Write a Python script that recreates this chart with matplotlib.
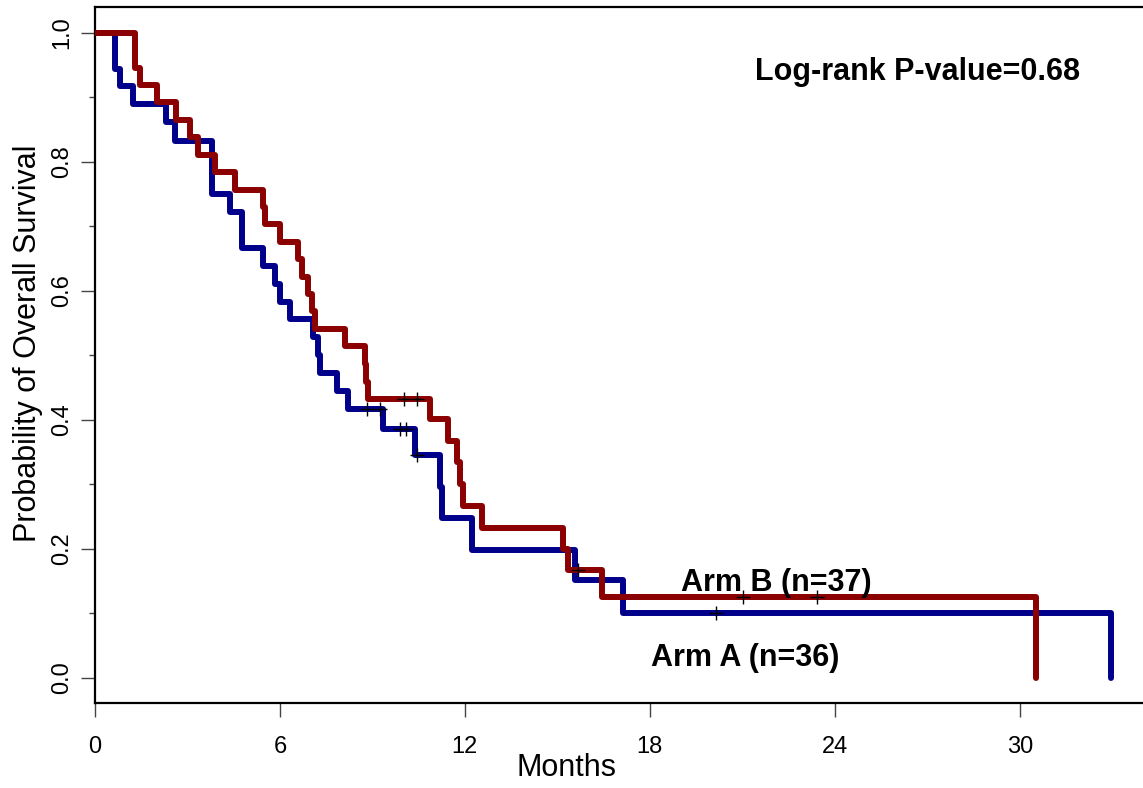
import numpy as np
import matplotlib.pyplot as plt
from matplotlib.ticker import MultipleLocator

plt.rcParams['font.family'] = ['Liberation Sans', 'DejaVu Sans']

# Kaplan-Meier steps (months, survival)
arm_a_time = [0, 0.65, 0.81, 1.23, 2.30, 2.59, 3.79, 4.38, 4.77, 5.45, 5.84, 6.00,
              6.32, 7.07, 7.23, 7.30, 7.85, 8.21, 9.33, 10.38, 11.19, 11.26, 12.23,
              15.57, 17.13, 32.96]
arm_a_surv = [1.0, 0.944, 0.917, 0.889, 0.861, 0.833, 0.750, 0.722, 0.667, 0.639, 0.611, 0.583,
              0.556, 0.528, 0.500, 0.472, 0.444, 0.417, 0.385, 0.346, 0.296, 0.248, 0.198,
              0.151, 0.100, 0.0]
arm_a_cens = [8.82, 9.25, 9.89, 10.09, 10.44, 20.14]

arm_b_time = [0, 1.30, 1.46, 2.01, 2.63, 3.08, 3.34, 3.89, 4.54, 5.45, 5.51, 6.00,
              6.58, 6.71, 6.91, 7.04, 7.14, 8.11, 8.76, 8.80, 8.86, 10.87, 11.45,
              11.74, 11.84, 11.94, 12.55, 15.18, 15.34, 16.44, 30.54]
arm_b_surv = [1.0, 0.946, 0.919, 0.892, 0.865, 0.838, 0.811, 0.784, 0.757, 0.730, 0.703, 0.676,
              0.649, 0.622, 0.595, 0.568, 0.541, 0.514, 0.486, 0.459, 0.432, 0.401, 0.367,
              0.334, 0.300, 0.267, 0.233, 0.200, 0.167, 0.125, 0.0]
arm_b_cens = [10.02, 10.44, 15.67, 21.01, 23.41]

x_ticks = [0, 6, 12, 18, 24, 30]
y_ticks = [0.0, 0.2, 0.4, 0.6, 0.8, 1.0]


def surv_at(times, surv, t):
    idx = np.searchsorted(times, t, side='right') - 1
    return np.array(surv)[idx]


fig = plt.figure(figsize=(11.43, 7.88), dpi=100)
ax = fig.add_axes([0.0831, 0.1079, 0.9169, 0.8832])

ax.step(arm_b_time, arm_b_surv, where='post', color='#8b0000', lw=4.3,
        solid_capstyle='round', solid_joinstyle='round', zorder=3)
ax.step(arm_a_time, arm_a_surv, where='post', color='#00008b', lw=4.3,
        solid_capstyle='round', solid_joinstyle='round', zorder=2)

# censoring marks
ax.plot(arm_a_cens, surv_at(arm_a_time, arm_a_surv, arm_a_cens), '+', color='black',
        ms=10, mew=1.0, zorder=4)
ax.plot(arm_b_cens, surv_at(arm_b_time, arm_b_surv, arm_b_cens), '+', color='black',
        ms=10, mew=1.0, zorder=4)

ax.set_xlim(0, 34)
ax.set_ylim(-0.039, 1.040)

ax.set_xticks(x_ticks)
ax.set_yticks(y_ticks)
ax.set_yticklabels(['%.1f' % v for v in y_ticks], rotation=90, va='center')
ax.yaxis.set_minor_locator(MultipleLocator(0.1))
ax.tick_params(axis='both', which='major', direction='out', length=10, width=1,
               color='#444444', labelsize=17)
ax.tick_params(axis='x', which='major', pad=14)
ax.tick_params(axis='y', which='major', pad=6)
ax.tick_params(axis='y', which='minor', direction='out', length=4, width=1, color='#444444')

for side in ['left', 'bottom', 'top']:
    ax.spines[side].set_linewidth(1.6)
ax.spines['right'].set_visible(False)

ax.set_xlabel('Months', fontsize=22)
ax.xaxis.set_label_coords(0.45, -0.072)
ax.set_ylabel('Probability of Overall Survival', fontsize=22)
ax.yaxis.set_label_coords(-0.05, 0.517)

ax.text(21.4, 0.927, 'Log-rank P-value=0.68', fontsize=22, fontweight='bold',
        ha='left', va='baseline')
ax.text(19.0, 0.134, 'Arm B (n=37)', fontsize=22, fontweight='bold',
        ha='left', va='baseline')
ax.text(18.05, 0.018, 'Arm A (n=36)', fontsize=22, fontweight='bold',
        ha='left', va='baseline')

fig.savefig('out.png', dpi=100)
